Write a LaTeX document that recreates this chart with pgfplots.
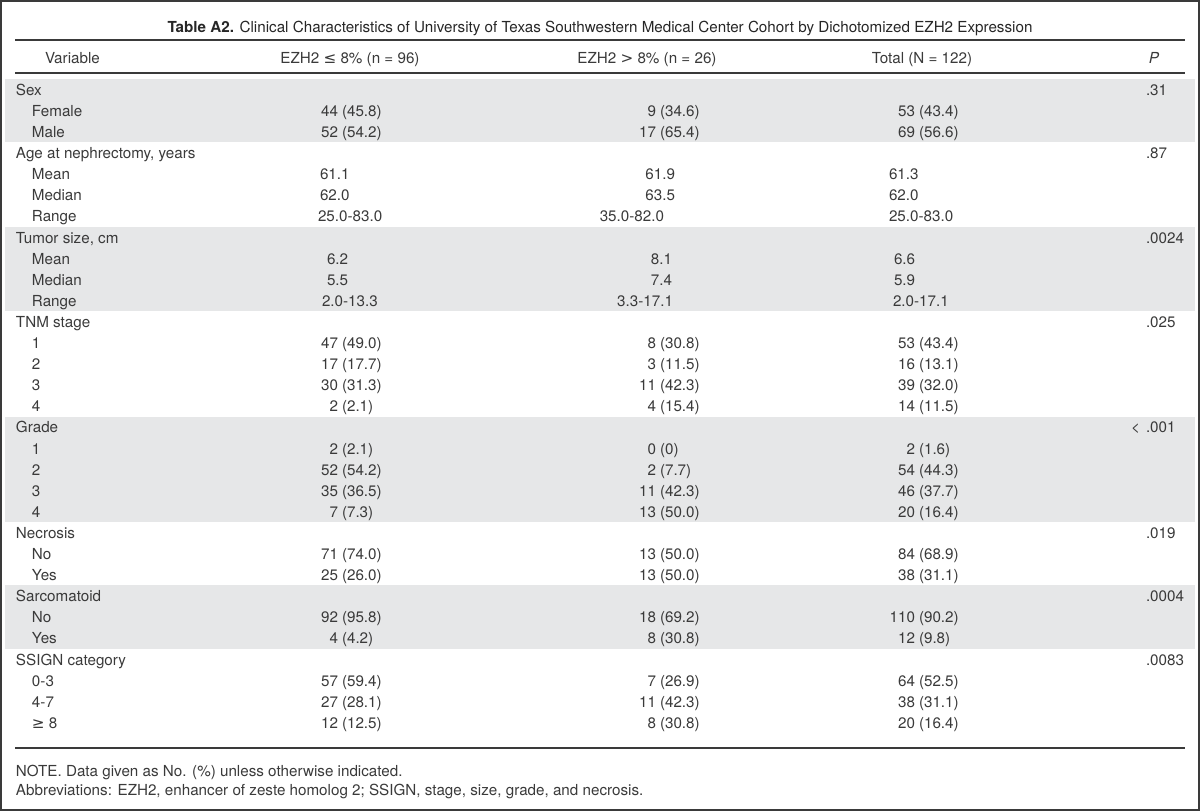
\documentclass[border=0pt]{standalone}
\usepackage{pgfplots}
\pgfplotsset{compat=1.18}
\usepackage{fontspec}
\setmainfont{TeX Gyre Heros}
\newfontfamily\sym{DejaVu Sans}
\definecolor{band}{HTML}{E6E7E8}
\definecolor{txt}{HTML}{3A3A3A}
\definecolor{rulec}{HTML}{3A3A3A}
\tikzset{cell/.style={inner sep=0pt,outer sep=0pt,font=\fontsize{7.6pt}{9pt}\selectfont,text=txt}}
\newcommand{\T}[3]{\node[cell,anchor=base west] at (axis cs:#1,#2) {#3};}
\newcommand{\R}[3]{\node[cell,anchor=base east] at (axis cs:#1,#2) {#3};}
\newcommand{\C}[3]{\node[cell,anchor=base] at (axis cs:#1,#2) {#3};}
% count/percent cell: x of count's right edge, y, count, percent
\newcommand{\NP}[4]{\node[cell,anchor=base east] at (axis cs:#1,#2) {#3};\node[cell,anchor=base west,xshift=2pt] at (axis cs:#1,#2) {(#4)};}
\begin{document}
\begin{tikzpicture}
\begin{axis}[width=600pt,height=405.5pt,scale only axis,
  xmin=0,xmax=1200,ymin=0,ymax=811,y dir=reverse,
  hide axis,clip=false,
  every axis plot/.append style={mark=none,forget plot}]
% shaded bands
\addplot[fill=band,draw=none] coordinates {(5,79) (1195,79) (1195,142.3) (5,142.3)} -- cycle;
\addplot[fill=band,draw=none] coordinates {(5,226.7) (1195,226.7) (1195,311.1) (5,311.1)} -- cycle;
\addplot[fill=band,draw=none] coordinates {(5,416.6) (1195,416.6) (1195,522.1) (5,522.1)} -- cycle;
\addplot[fill=band,draw=none] coordinates {(5,585.4) (1195,585.4) (1195,648.7) (5,648.7)} -- cycle;
% rules
\addplot[draw=rulec,line width=1pt] coordinates {(15,40) (1185,40)};
\addplot[draw=rulec,line width=1pt] coordinates {(15,72.5) (1185,72.5)};
\addplot[draw=rulec,line width=0.8pt] coordinates {(15,748) (1185,748)};
% frame
\addplot[draw=rulec,line width=1.2pt,line join=miter] coordinates {(1.2,1.2) (1198.8,1.2) (1198.8,809.8) (1.2,809.8)} -- cycle;
% title
\node[cell,anchor=base,text=black!85] at (axis cs:600,32) {\textbf{Table A2.} Clinical Characteristics of University of Texas Southwestern Medical Center Cohort by Dichotomized EZH2 Expression};
% header
\T{45}{63}{Variable}
\C{350}{63}{EZH2 {\sym ≤} 8\% (n = 96)}
\C{647}{63}{EZH2 {\sym >} 8\% (n = 26)}
\C{922}{63}{Total (N = 122)}
\C{1154}{63}{\textit{P}}
% Sex
\T{16}{95.3}{Sex} \T{1146}{95.3}{.31}
\T{32}{116.4}{Female} \NP{338}{116.4}{44}{45.8} \NP{656}{116.4}{9}{34.6} \NP{915}{116.4}{53}{43.4}
\T{32}{137.5}{Male} \NP{338}{137.5}{52}{54.2} \NP{656}{137.5}{17}{65.4} \NP{915}{137.5}{69}{56.6}
% Age
\T{16}{158.6}{Age at nephrectomy, years} \T{1146}{158.6}{.87}
\T{32}{179.7}{Mean} \T{320}{179.7}{61.1} \R{675}{179.7}{61.9} \T{889}{179.7}{61.3}
\T{32}{200.8}{Median} \T{320}{200.8}{62.0} \R{675}{200.8}{63.5} \T{889}{200.8}{62.0}
\T{32}{221.9}{Range} \T{318}{221.9}{25.0-83.0} \R{664}{221.9}{35.0-82.0} \T{889}{221.9}{25.0-83.0}
% Tumor size
\T{16}{243.0}{Tumor size, cm} \T{1146}{243.0}{.0024}
\T{32}{264.1}{Mean} \T{327}{264.1}{6.2} \R{672}{264.1}{8.1} \T{894}{264.1}{6.6}
\T{32}{285.2}{Median} \T{327}{285.2}{5.5} \R{672}{285.2}{7.4} \T{894}{285.2}{5.9}
\T{32}{306.3}{Range} \T{322}{306.3}{2.0-13.3} \R{673}{306.3}{3.3-17.1} \T{893}{306.3}{2.0-17.1}
% TNM
\T{16}{327.4}{TNM stage} \T{1146}{327.4}{.025}
\T{32}{348.5}{1} \NP{338}{348.5}{47}{49.0} \NP{656}{348.5}{8}{30.8} \NP{915}{348.5}{53}{43.4}
\T{32}{369.6}{2} \NP{338}{369.6}{17}{17.7} \NP{656}{369.6}{3}{11.5} \NP{915}{369.6}{16}{13.1}
\T{32}{390.7}{3} \NP{338}{390.7}{30}{31.3} \NP{656}{390.7}{11}{42.3} \NP{915}{390.7}{39}{32.0}
\T{32}{411.8}{4} \NP{338}{411.8}{2}{2.1} \NP{656}{411.8}{4}{15.4} \NP{915}{411.8}{14}{11.5}
% Grade
\T{16}{432.9}{Grade} \R{1140}{432.9}{<} \T{1146}{432.9}{.001}
\T{32}{454.0}{1} \NP{338}{454.0}{2}{2.1} \NP{656}{454.0}{0}{0} \NP{915}{454.0}{2}{1.6}
\T{32}{475.1}{2} \NP{338}{475.1}{52}{54.2} \NP{656}{475.1}{2}{7.7} \NP{915}{475.1}{54}{44.3}
\T{32}{496.2}{3} \NP{338}{496.2}{35}{36.5} \NP{656}{496.2}{11}{42.3} \NP{915}{496.2}{46}{37.7}
\T{32}{517.3}{4} \NP{338}{517.3}{7}{7.3} \NP{656}{517.3}{13}{50.0} \NP{915}{517.3}{20}{16.4}
% Necrosis
\T{16}{538.4}{Necrosis} \T{1146}{538.4}{.019}
\T{32}{559.5}{No} \NP{338}{559.5}{71}{74.0} \NP{656}{559.5}{13}{50.0} \NP{915}{559.5}{84}{68.9}
\T{32}{580.6}{Yes} \NP{338}{580.6}{25}{26.0} \NP{656}{580.6}{13}{50.0} \NP{915}{580.6}{38}{31.1}
% Sarcomatoid
\T{16}{601.7}{Sarcomatoid} \T{1146}{601.7}{.0004}
\T{32}{622.8}{No} \NP{338}{622.8}{92}{95.8} \NP{656}{622.8}{18}{69.2} \NP{915}{622.8}{110}{90.2}
\T{32}{643.9}{Yes} \NP{338}{643.9}{4}{4.2} \NP{656}{643.9}{8}{30.8} \NP{915}{643.9}{12}{9.8}
% SSIGN
\T{16}{665.0}{SSIGN category} \T{1146}{665.0}{.0083}
\T{32}{686.1}{0-3} \NP{338}{686.1}{57}{59.4} \NP{656}{686.1}{7}{26.9} \NP{915}{686.1}{64}{52.5}
\T{32}{707.2}{4-7} \NP{338}{707.2}{27}{28.1} \NP{656}{707.2}{11}{42.3} \NP{915}{707.2}{38}{31.1}
\T{32}{728.3}{{\sym ≥} 8} \NP{338}{728.3}{12}{12.5} \NP{656}{728.3}{8}{30.8} \NP{915}{728.3}{20}{16.4}
% notes
\T{16}{776}{NOTE. Data given as No. (\%) unless otherwise indicated.}
\T{16}{795}{Abbreviations: EZH2, enhancer of zeste homolog 2; SSIGN, stage, size, grade, and necrosis.}
\end{axis}
\end{tikzpicture}
\end{document}
